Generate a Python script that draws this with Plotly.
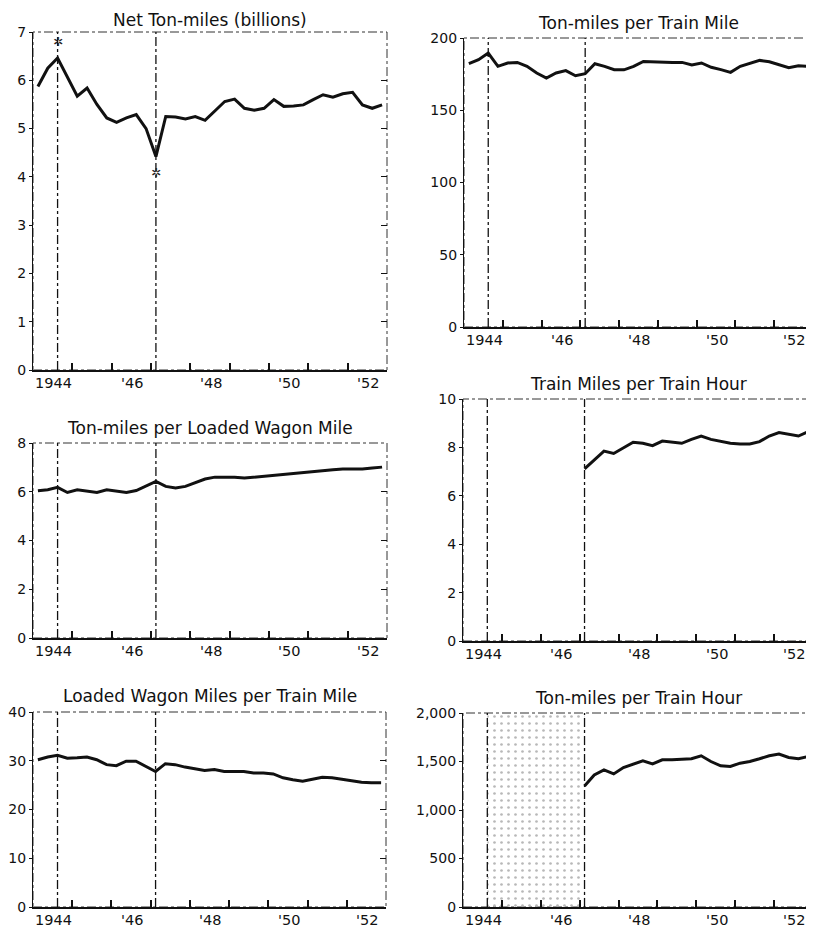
import plotly.graph_objects as go

# ---------------- data (quarterly, 1944 Q1 .. 1952 Q4) ----------------
years = [1944, 1945, 1946, 1947, 1948, 1949, 1950, 1951, 1952]
quarters = [1, 2, 3, 4]

net_ton_miles = [5.87, 6.25, 6.46, 6.05, 5.67, 5.84, 5.50, 5.22, 5.13, 5.22, 5.29, 5.00,
                 4.42, 5.25, 5.24, 5.20, 5.25, 5.17, 5.36, 5.56, 5.61, 5.42, 5.38, 5.42,
                 5.60, 5.46, 5.47, 5.49, 5.60, 5.70, 5.65, 5.72, 5.75, 5.49, 5.42, 5.49]

ton_miles_per_train_mile = [182.2, 185.0, 189.6, 180.4, 182.7, 183.1, 180.4, 175.8, 172.3, 175.8, 177.4, 173.9,
                            175.3, 182.2, 180.4, 178.1, 178.0, 180.4, 183.8, 183.4, 183.1, 183.1, 183.1, 181.3,
                            182.7, 179.7, 178.1, 176.2, 180.4, 182.2, 184.5, 183.6, 181.5, 179.4, 180.8, 180.4]

ton_miles_per_wagon_mile = [6.04, 6.08, 6.18, 5.97, 6.08, 6.01, 5.97, 6.08, 6.04, 5.97, 6.05, 6.22,
                            6.42, 6.22, 6.15, 6.22, 6.36, 6.52, 6.60, 6.60, 6.59, 6.56, 6.60, 6.63,
                            6.66, 6.73, 6.77, 6.79, 6.84, 6.86, 6.90, 6.93, 6.93, 6.93, 6.97, 7.01]

train_miles_per_hour = [None] * 12 + [
    7.11, 7.48, 7.85, 7.75, 7.99, 8.21, 8.17, 8.07, 8.26, 8.21, 8.17, 8.33,
    8.47, 8.33, 8.24, 8.17, 8.14, 8.14, 8.24, 8.47, 8.61, 8.55, 8.47, 8.65]

wagon_miles_per_train_mile = [30.2, 30.75, 31.1, 30.5, 30.6, 30.75, 30.2, 29.2, 29.0, 29.9, 29.9, 28.8,
                              27.8, 29.4, 29.2, 28.7, 28.4, 28.0, 28.2, 27.8, 27.8, 27.8, 27.5, 27.5,
                              27.3, 26.5, 26.1, 25.8, 26.2, 26.6, 26.5, 26.2, 25.8, 25.6, 25.5, 25.5]

ton_miles_per_train_hour = [None] * 12 + [
    1248, 1362, 1414, 1372, 1438, 1472, 1507, 1476, 1517, 1517, 1524, 1528,
    1559, 1500, 1455, 1448, 1483, 1500, 1528, 1559, 1576, 1541, 1528, 1552]

titles = ["Net Ton-miles (billions)", "Ton-miles per Train Mile",
          "Ton-miles per Loaded Wagon Mile", "Train Miles per Train Hour",
          "Loaded Wagon Miles per Train Mile", "Ton-miles per Train Hour"]

y_max = [7, 200, 8, 10, 40, 2000]
y_step = [1, 50, 2, 2, 10, 500]

x_label_years = [1944, 1946, 1948, 1950, 1952]
x_tick_text = ["1944", "'46", "'48", "'50", "'52"]

# reference dates (peak and trough), as (year, quarter)
peak = (1944, 3)
trough = (1947, 1)

# ---------------- layout geometry (screen pixels) ----------------
OFF = 8                      # page body margin
W, H = 814 - OFF, 930 - OFF  # figure size
# (left, right, top, bottom) of each plot area in screen pixels
boxes = [(33, 387, 32, 370), (464, 813, 38, 327),
         (33, 387, 443, 638), (463, 813, 399, 641),
         (33, 386, 712, 907), (463, 813, 713, 907)]
title_shift = [1, 4, 4, 4, 5, 4]

def qx(year, q):
    return year + (q - 0.5) / 4.0

x = [qx(y, q) for y in years for q in quarters]
peak_x = qx(*peak)
trough_x = qx(*trough)

series = [net_ton_miles, ton_miles_per_train_mile, ton_miles_per_wagon_mile,
          train_miles_per_hour, wagon_miles_per_train_mile, ton_miles_per_train_hour]

FONT = "DejaVu Sans"
INK = "#111111"
TICK_SIZE = 14.5
YTICK_SIZE = 14

fig = go.Figure()
shapes = []
annotations = []
layout = {}

for i in range(6):
    n = i + 1
    xa = "x" if n == 1 else f"x{n}"
    ya = "y" if n == 1 else f"y{n}"
    yr = f"y{n + 6}"
    l, r, t, b = boxes[i]
    xdom = [(l - OFF) / W, min(1.0, (r - OFF) / W)]
    ydom = [1 - (b - OFF) / H, 1 - (t - OFF) / H]
    ymax = y_max[i]
    yvals = list(range(0, ymax + 1, y_step[i]))

    # stipple for the missing period in the last panel
    if n == 6:
        fig.add_trace(go.Scatter(
            x=[peak_x, trough_x, trough_x, peak_x, peak_x],
            y=[0, 0, ymax, ymax, 0],
            xaxis=xa, yaxis=ya, mode="lines", line=dict(width=0),
            fill="toself", fillcolor="rgba(255,255,255,0)",
            fillpattern=dict(shape=".", fgcolor="#b8b8b8", bgcolor="rgba(255,255,255,0)",
                             size=7, solidity=0.12),
            hoverinfo="skip", showlegend=False))

    fig.add_trace(go.Scatter(
        x=x, y=series[i], xaxis=xa, yaxis=ya, mode="lines",
        line=dict(color=INK, width=3), connectgaps=False, showlegend=False))
    # invisible twin so the right-hand tick axis is drawn
    fig.add_trace(go.Scatter(
        x=x, y=series[i], xaxis=xa, yaxis=yr, mode="lines",
        line=dict(color="rgba(0,0,0,0)", width=0), hoverinfo="skip", showlegend=False))

    layout["xaxis" if n == 1 else f"xaxis{n}"] = dict(
        domain=xdom, anchor=ya, range=[1944, 1953], automargin=False,
        tickmode="array", tickvals=years[1:], ticktext=[""] * (len(years) - 1),
        ticks="inside", ticklen=7, tickwidth=1.5, tickcolor=INK,
        showgrid=False, zeroline=False,
        showline=True, linewidth=2, linecolor=INK, layer="above traces",
        tickfont=dict(family=FONT, size=TICK_SIZE, color=INK), fixedrange=True)

    layout["yaxis" if n == 1 else f"yaxis{n}"] = dict(
        domain=ydom, anchor=xa, range=[0, ymax], automargin=False,
        tickmode="array", tickvals=yvals, tickformat=",",
        ticks="outside", ticklen=3, tickwidth=1, tickcolor=INK,
        showline=True, linewidth=1.2, linecolor=INK,
        showgrid=False, zeroline=False,
        tickfont=dict(family=FONT, size=YTICK_SIZE, color=INK), fixedrange=True)

    # right-side inside ticks
    layout[f"yaxis{n + 6}"] = dict(
        overlaying=ya, side="right", anchor=xa, range=[0, ymax], automargin=False,
        tickmode="array", tickvals=yvals[1:-1], ticks="inside", ticklen=6,
        tickwidth=1.2, tickcolor=INK, showticklabels=False, showline=False,
        showgrid=False, zeroline=False, fixedrange=True)

    # frame (top / right)
    shapes.append(dict(type="rect", xref=f"{xa} domain", yref=f"{ya} domain",
                       x0=0, x1=1, y0=0, y1=1, layer="below",
                       line=dict(color="#333333", width=1, dash="dashdot")))
    # reference date lines
    for vx in (peak_x, trough_x):
        shapes.append(dict(type="line", xref=xa, yref=f"{ya} domain",
                           x0=vx, x1=vx, y0=0, y1=1,
                           line=dict(color=INK, width=1.3, dash="dashdot")))

    # x labels (centred in the year)
    for yv, txt in zip(x_label_years, x_tick_text):
        annotations.append(dict(text=txt, x=yv + 0.52, xref=xa, y=0, yref=f"{ya} domain",
                                xanchor="center", yanchor="top", yshift=-3, showarrow=False,
                                font=dict(family=FONT, size=TICK_SIZE, color=INK)))

    annotations.append(dict(text=titles[i], xref=f"{xa} domain", yref=f"{ya} domain",
                            x=0.5, y=1, xanchor="center", yanchor="bottom",
                            yshift=title_shift[i], borderpad=0,
                            showarrow=False, font=dict(family=FONT, size=17, color=INK)))

# peak / trough asterisks on the first panel
pi = x.index(peak_x)
ti = x.index(trough_x)
annotations.append(dict(text="✲", x=peak_x, y=net_ton_miles[pi], xref="x", yref="y",
                        yshift=16, showarrow=False, font=dict(family=FONT, size=12, color="#222")))
annotations.append(dict(text="✲", x=trough_x, y=net_ton_miles[ti], xref="x", yref="y",
                        yshift=-16, showarrow=False, font=dict(family=FONT, size=12, color="#222")))

fig.update_layout(template="none", width=W, height=H, margin=dict(l=0, r=0, t=0, b=0),
                  paper_bgcolor="white", plot_bgcolor="white",
                  shapes=shapes, annotations=annotations, showlegend=False, **layout)

fig.write_html("out.html")
